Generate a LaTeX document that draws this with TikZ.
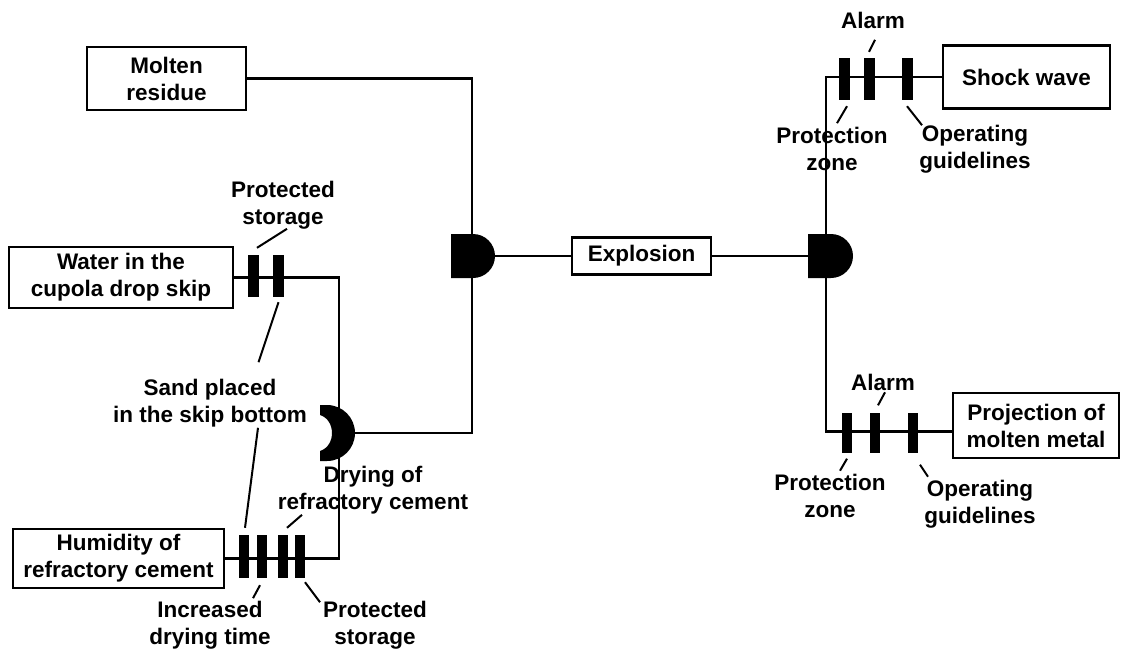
\documentclass[tikz,border=0pt]{standalone}
\usepackage{fontspec}
\setmainfont{Liberation Sans}
\usetikzlibrary{positioning, calc}

\tikzset{
  event/.style={draw, line width=2.6pt, inner sep=0pt, align=center,
    font=\fontsize{22.5}{27}\selectfont\bfseries},
  barrier/.style={fill=black, inner sep=0pt, minimum width=11pt, minimum height=42pt},
  tag/.style={inner sep=0pt, align=center, font=\fontsize{22.5}{27}\selectfont\bfseries},
  wire/.style={line width=2.4pt},
  leader/.style={line width=2pt},
}

\begin{document}
\begin{tikzpicture}[x=1pt, y=-1pt]
    \useasboundingbox (0,0) rectangle (1126,651);

    % Events
    \node[event, minimum width=159pt, minimum height=63pt] (mr) at (166.5,78.5) {Molten\\residue};
    \node[event, minimum width=224pt, minimum height=61pt] (wa) at (121,277.5) {Water in the\\cupola drop skip};
    \node[event, minimum width=211pt, minimum height=59pt] (hu) at (118.5,558.5) {Humidity of\\refractory cement};
    \node[event, minimum width=139pt, minimum height=37pt] (ex) at (641.5,256) {Explosion};
    \node[event, minimum width=167pt, minimum height=63pt] (sw) at (1026.5,77) {Shock wave};
    \node[event, minimum width=166pt, minimum height=65pt] (pm) at (1036,425.5) {Projection of\\molten metal};

    % Gates
    \coordinate (and1) at (472,256);
    \coordinate (and2) at (826,256);
    \coordinate (or1) at (327,433);
    \coordinate (orin1) at (339,420);
    \coordinate (orin2) at (339,450);
    \coordinate (orout) at (350,433);

    % Connections
    \draw[wire] (mr.east) -| (and1);
    \draw[wire] (orout) -| (and1);
    \draw[wire] (and1) -- (ex.west);
    \draw[wire] (ex.east) -- (and2);
    \draw[wire] (and2) |- (sw.west);
    \draw[wire] (and2) |- ([yshift=-6pt]pm.west);
    \draw[wire] (wa.east) -| (orin1);
    \draw[wire] (hu.east) -| (orin2);

    % AND gates
    \fill ($(and1)+(-21,-22)$) -- ($(and1)+(1,-22)$) arc[start angle=-90, end angle=90, radius=22]
        -- ($(and1)+(-21,22)$) -- cycle;
    \fill ($(and2)+(-18,-22)$) -- ($(and2)+(5,-22)$) arc[start angle=-90, end angle=90, radius=22]
        -- ($(and2)+(-18,22)$) -- cycle;

    % OR gate
    \fill ($(or1)+(-7,-28)$) -- ($(or1)+(0,-28)$) arc[start angle=-90, end angle=90, radius=28]
        -- ($(or1)+(-7,28)$) -- ($(or1)+(-7,18)$)
        .. controls ($(or1)+(9,13)$) and ($(or1)+(9,-13)$) .. ($(or1)+(-7,-18)$) -- cycle;

    % Barriers
    \node[barrier] (w1) at (253.5,276) {};
    \node[barrier] (w2) at (278.5,276) {};
    \node[barrier, minimum width=10pt, minimum height=43pt] (h1) at (243.5,556.5) {};
    \node[barrier, minimum width=10pt, minimum height=43pt] (h2) at (262,556.5) {};
    \node[barrier, minimum width=10pt, minimum height=43pt] (h3) at (283,556.5) {};
    \node[barrier, minimum width=10pt, minimum height=43pt] (h4) at (300,556.5) {};
    \node[barrier] (s1) at (844.5,79) {};
    \node[barrier] (s2) at (869.5,79) {};
    \node[barrier] (s3) at (907.5,79) {};
    \node[barrier, minimum width=10pt, minimum height=40pt] (p1) at (847,432.5) {};
    \node[barrier, minimum width=10pt, minimum height=40pt] (p2) at (875,432.5) {};
    \node[barrier, minimum width=10pt, minimum height=40pt] (p3) at (913,432.5) {};

    % Barrier labels
    \node[tag] (ps1) at (283,205) {Protected\\storage};
    \node[tag] (sand) at (210,403) {Sand placed\\in the skip bottom};
    \node[tag] (dry) at (373,490) {Drying of\\refractory cement};
    \node[tag] (inc) at (210,625) {Increased\\drying time};
    \node[tag] (ps2) at (375,625) {Protected\\storage};
    \node[tag] (al1) at (873,20) {Alarm};
    \node[tag] (pz1) at (832,149) {Protection\\zone};
    \node[tag] (og1) at (975,149) {Operating\\guidelines};
    \node[tag] (al2) at (883,382) {Alarm};
    \node[tag] (pz2) at (830,496) {Protection\\zone};
    \node[tag] (og2) at (980,504) {Operating\\guidelines};

    % Leaders
    \draw[leader] ($(w1.north)+(33.5,-26)$) -- ($(w1.north)+(3.5,-7)$);
    \draw[leader] ($(w2.south)+(0,5)$) -- ($(w2.south)+(-20,65)$);
    \draw[leader] ($(h1.north)+(14.5,-107)$) -- ($(h1.north)+(1.5,-7)$);
    \draw[leader] ($(h3.north)+(19,-20)$) -- ($(h3.north)+(4,-7)$);
    \draw[leader] ($(h2.south)+(-2,7)$) -- ($(h2.south)+(-9,20)$);
    \draw[leader] ($(h4.south)+(5,4)$) -- ($(h4.south)+(20,24)$);
    \draw[leader] ($(s2.north)+(5.5,-18)$) -- ($(s2.north)+(-0.5,-6)$);
    \draw[leader] ($(s1.south)+(2.5,6)$) -- ($(s1.south)+(-7.5,23)$);
    \draw[leader] ($(s3.south)+(-0.5,6)$) -- ($(s3.south)+(14.5,25)$);
    \draw[leader] ($(p2.north)+(10,-20)$) -- ($(p2.north)+(3,-7)$);
    \draw[leader] ($(p1.south)+(0,6)$) -- ($(p1.south)+(-7,18)$);
    \draw[leader] ($(p3.south)+(7,12)$) -- ($(p3.south)+(15,24)$);
\end{tikzpicture}
\end{document}
